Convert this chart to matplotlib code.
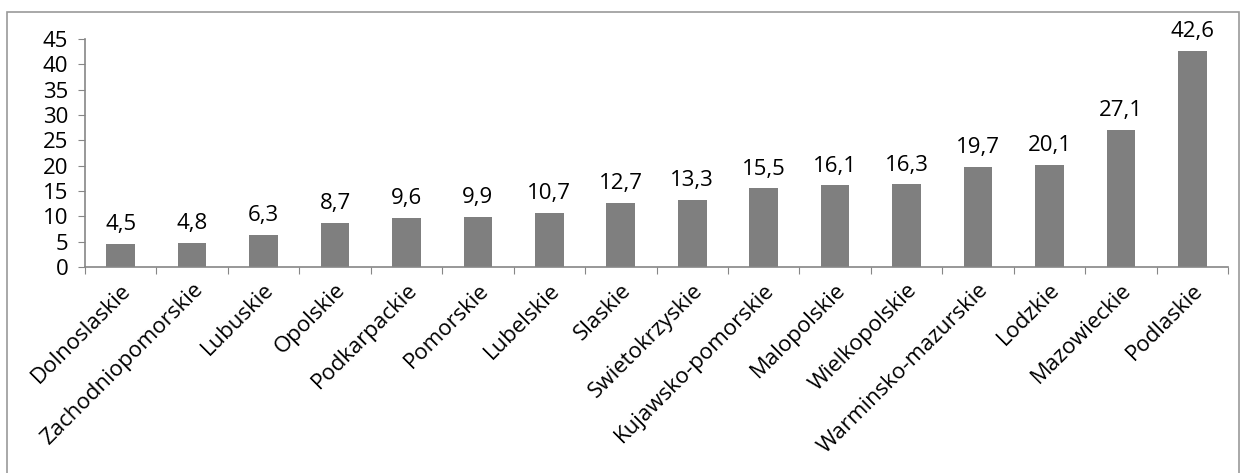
import matplotlib
matplotlib.use("Agg")
import matplotlib.pyplot as plt
import matplotlib.transforms as mtransforms
from matplotlib.patches import Rectangle

regions = ["Dolnoslaskie", "Zachodniopomorskie", "Lubuskie", "Opolskie",
           "Podkarpackie", "Pomorskie", "Lubelskie", "Slaskie",
           "Swietokrzyskie", "Kujawsko-pomorskie", "Malopolskie",
           "Wielkopolskie", "Warminsko-mazurskie", "Lodzkie",
           "Mazowieckie", "Podlaskie"]
values = [4.5, 4.8, 6.3, 8.7, 9.6, 9.9, 10.7, 12.7, 13.3, 15.5, 16.1,
          16.3, 19.7, 20.1, 27.1, 42.6]
y_ticks = [0, 5, 10, 15, 20, 25, 30, 35, 40, 45]

plt.rcParams['font.family'] = ['Open Sans', 'DejaVu Sans']

W, H = 1244, 473
fig = plt.figure(figsize=(W / 100, H / 100), dpi=100)
ax = fig.add_axes([85 / W, 1 - 267 / H, (1228 - 85) / W, (267 - 39) / H])

axis_color = "#868686"
fs = 16
x = list(range(len(regions)))
ax.bar(x, values, width=0.4, color="#7f7f7f", zorder=2)

ax.set_xlim(-0.5, len(regions) - 0.5)
ax.set_ylim(0, 45)
ax.set_yticks(y_ticks)
ax.set_yticklabels([str(t) for t in y_ticks], fontsize=fs)

# Category ticks sit on the boundaries between bars
ax.set_xticks([i - 0.5 for i in range(len(regions) + 1)])
ax.set_xticklabels([])
ax.set_xticks(x, minor=True)
ax.set_xticklabels(regions, minor=True, rotation=45, ha="right", va="top",
                   rotation_mode="anchor", fontsize=fs)
shift = mtransforms.ScaledTranslation(5 / 100, 0, fig.dpi_scale_trans)
for lbl in ax.get_xticklabels(minor=True):
    lbl.set_transform(lbl.get_transform() + shift)
ax.tick_params(axis="x", which="minor", length=0, pad=9)
ax.tick_params(axis="x", which="major", length=5, color=axis_color, direction="out")
ax.tick_params(axis="y", length=5, color=axis_color, direction="out", pad=7)

for side in ("top", "right"):
    ax.spines[side].set_visible(False)
for side in ("left", "bottom"):
    ax.spines[side].set_color(axis_color)
    ax.spines[side].set_linewidth(1.2)

for xi, v in zip(x, values):
    ax.annotate(f"{v:.1f}".replace(".", ","), (xi, v), xytext=(0, 10),
                textcoords="offset points", ha="center", va="baseline",
                fontsize=fs)

# Chart-area frame
fig.patches.append(Rectangle((7 / W, -0.05), (1239 - 7) / W, 1.05 - 12 / H,
                             transform=fig.transFigure, fill=False,
                             edgecolor="#9a9a9a", linewidth=1.2))

fig.savefig("out.png", dpi=100, facecolor="white")
